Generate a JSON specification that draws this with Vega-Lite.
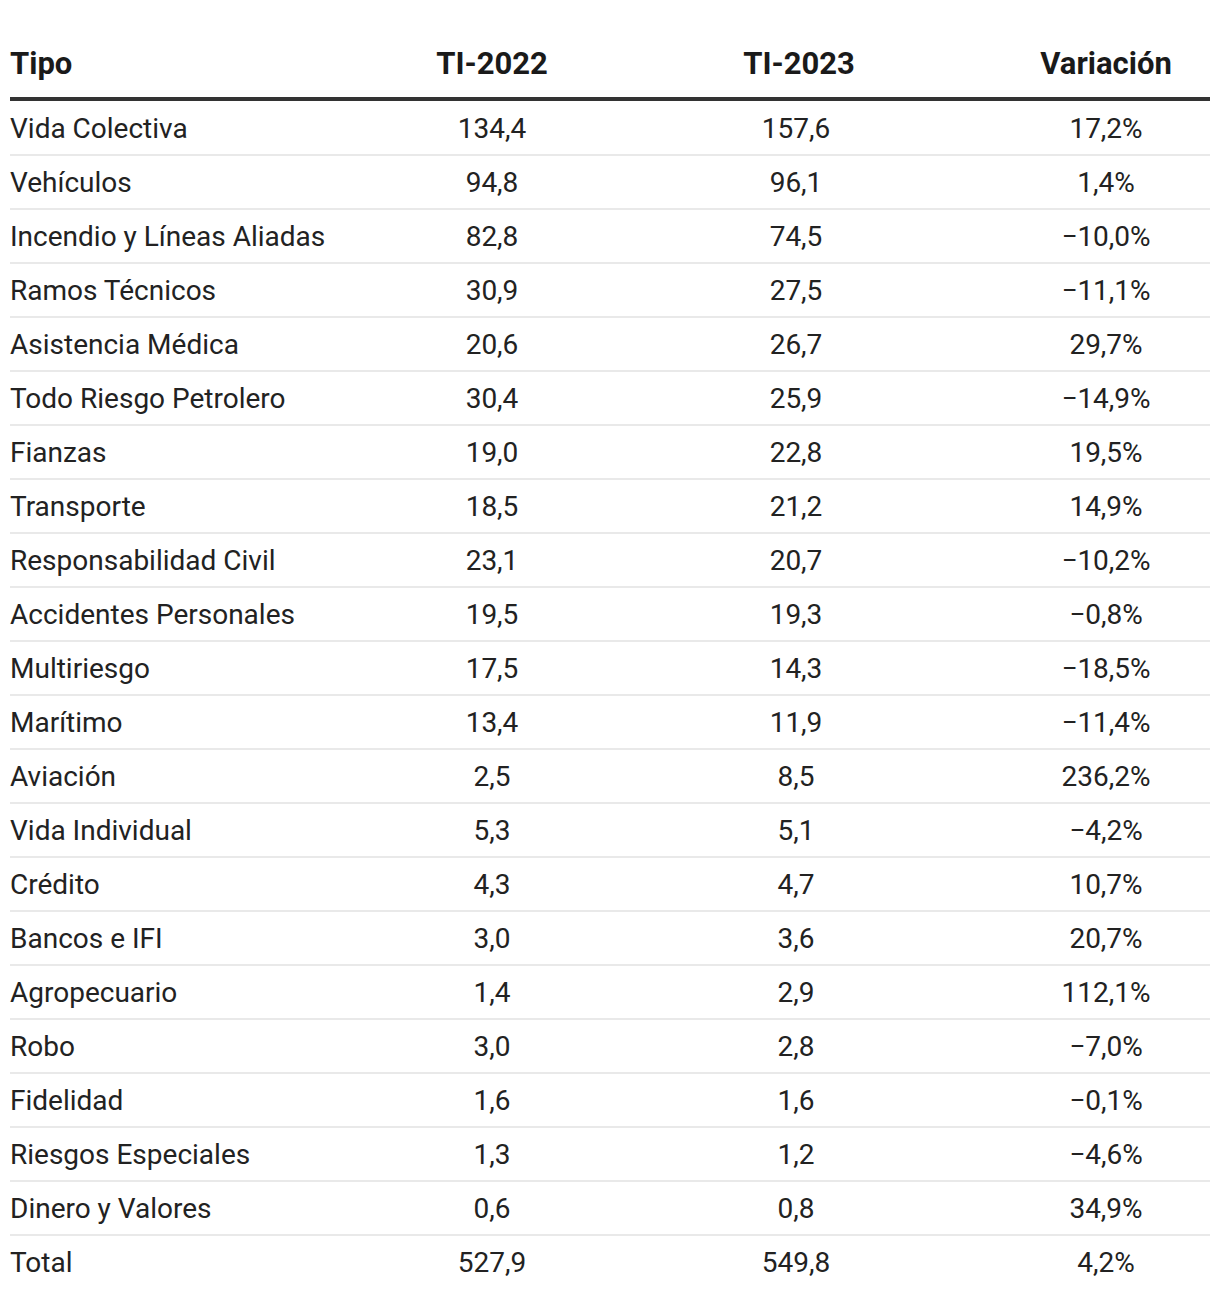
{
  "$schema": "https://vega.github.io/schema/vega-lite/v6.json",
  "width": 1200,
  "height": 1298,
  "autosize": {"type": "none"},
  "padding": {"left": 10, "right": 10, "top": 0, "bottom": 0},
  "background": "white",
  "config": {
    "view": {"stroke": null},
    "font": "Roboto",
    "locale": {"number": {"decimal": ",", "thousands": ".", "grouping": [3], "currency": ["", ""], "minus": "\u2212"}},
    "text": {"font": "Roboto", "fontSize": 28, "color": "#222222", "baseline": "middle", "dy": 2}
  },
  "datasets": {
    "rows": [
      {"Tipo": "Vida Colectiva", "a": 134.4, "b": 157.6, "v": 0.172},
      {"Tipo": "Vehículos", "a": 94.8, "b": 96.1, "v": 0.014},
      {"Tipo": "Incendio y Líneas Aliadas", "a": 82.8, "b": 74.5, "v": -0.100},
      {"Tipo": "Ramos Técnicos", "a": 30.9, "b": 27.5, "v": -0.111},
      {"Tipo": "Asistencia Médica", "a": 20.6, "b": 26.7, "v": 0.297},
      {"Tipo": "Todo Riesgo Petrolero", "a": 30.4, "b": 25.9, "v": -0.149},
      {"Tipo": "Fianzas", "a": 19.0, "b": 22.8, "v": 0.195},
      {"Tipo": "Transporte", "a": 18.5, "b": 21.2, "v": 0.149},
      {"Tipo": "Responsabilidad Civil", "a": 23.1, "b": 20.7, "v": -0.102},
      {"Tipo": "Accidentes Personales", "a": 19.5, "b": 19.3, "v": -0.008},
      {"Tipo": "Multiriesgo", "a": 17.5, "b": 14.3, "v": -0.185},
      {"Tipo": "Marítimo", "a": 13.4, "b": 11.9, "v": -0.114},
      {"Tipo": "Aviación", "a": 2.5, "b": 8.5, "v": 2.362},
      {"Tipo": "Vida Individual", "a": 5.3, "b": 5.1, "v": -0.042},
      {"Tipo": "Crédito", "a": 4.3, "b": 4.7, "v": 0.107},
      {"Tipo": "Bancos e IFI", "a": 3.0, "b": 3.6, "v": 0.207},
      {"Tipo": "Agropecuario", "a": 1.4, "b": 2.9, "v": 1.121},
      {"Tipo": "Robo", "a": 3.0, "b": 2.8, "v": -0.070},
      {"Tipo": "Fidelidad", "a": 1.6, "b": 1.6, "v": -0.001},
      {"Tipo": "Riesgos Especiales", "a": 1.3, "b": 1.2, "v": -0.046},
      {"Tipo": "Dinero y Valores", "a": 0.6, "b": 0.8, "v": 0.349},
      {"Tipo": "Total", "a": 527.9, "b": 549.8, "v": 0.042}
    ],
    "cols": [
      {"col": "Tipo"},
      {"col": "TI-2022"},
      {"col": "TI-2023"},
      {"col": "Variación"}
    ]
  },
  "data": {"name": "rows"},
  "encoding": {
    "y": {
      "field": "Tipo",
      "type": "nominal",
      "axis": null,
      "scale": {
        "type": "point",
        "padding": 0,
        "range": [74, 1262],
        "domain": ["__header", "Vida Colectiva", "Vehículos", "Incendio y Líneas Aliadas", "Ramos Técnicos", "Asistencia Médica", "Todo Riesgo Petrolero", "Fianzas", "Transporte", "Responsabilidad Civil", "Accidentes Personales", "Multiriesgo", "Marítimo", "Aviación", "Vida Individual", "Crédito", "Bancos e IFI", "Agropecuario", "Robo", "Fidelidad", "Riesgos Especiales", "Dinero y Valores", "Total"]
      }
    }
  },
  "layer": [
    {
      "transform": [{"filter": "datum.Tipo != 'Total'"}],
      "mark": {"type": "rule", "stroke": "#e9e9e9", "strokeWidth": 2, "yOffset": 27},
      "encoding": {}
    },
    {
      "mark": {"type": "text", "align": "left", "dx": -175},
      "encoding": {
        "x": {"datum": "Tipo", "type": "nominal", "axis": null,
          "scale": {"type": "point", "padding": 0, "range": [175, 1096], "domain": ["Tipo", "TI-2022", "TI-2023", "Variación"]}},
        "text": {"field": "Tipo", "type": "nominal"}
      }
    },
    {
      "mark": {"type": "text", "align": "center"},
      "encoding": {
        "x": {"datum": "TI-2022", "type": "nominal"},
        "text": {"field": "a", "type": "quantitative", "format": ".1f"}
      }
    },
    {
      "mark": {"type": "text", "align": "center", "dx": -3},
      "encoding": {
        "x": {"datum": "TI-2023", "type": "nominal"},
        "text": {"field": "b", "type": "quantitative", "format": ".1f"}
      }
    },
    {
      "mark": {"type": "text", "align": "center"},
      "encoding": {
        "x": {"datum": "Variación", "type": "nominal"},
        "text": {"field": "v", "type": "quantitative", "format": ".1%"}
      }
    },
    {
      "data": {"name": "cols"},
      "transform": [{"filter": "datum.col == 'Tipo'"}],
      "mark": {"type": "rule", "stroke": "#333333", "strokeWidth": 4, "yOffset": 25},
      "encoding": {
        "y": {"datum": "__header", "type": "nominal"}
      }
    },
    {
      "data": {"name": "cols"},
      "transform": [{"filter": "datum.col == 'Tipo'"}],
      "mark": {"type": "text", "align": "left", "dx": -175, "dy": -9, "fontWeight": "bold", "fontSize": 31, "color": "#1a1a1a"},
      "encoding": {
        "x": {"field": "col", "type": "nominal"},
        "y": {"datum": "__header", "type": "nominal"},
        "text": {"field": "col", "type": "nominal"}
      }
    },
    {
      "data": {"name": "cols"},
      "transform": [{"filter": "datum.col != 'Tipo'"}],
      "mark": {"type": "text", "align": "center", "dy": -9, "fontWeight": "bold", "fontSize": 31, "color": "#1a1a1a"},
      "encoding": {
        "x": {"field": "col", "type": "nominal"},
        "y": {"datum": "__header", "type": "nominal"},
        "text": {"field": "col", "type": "nominal"}
      }
    }
  ]
}
